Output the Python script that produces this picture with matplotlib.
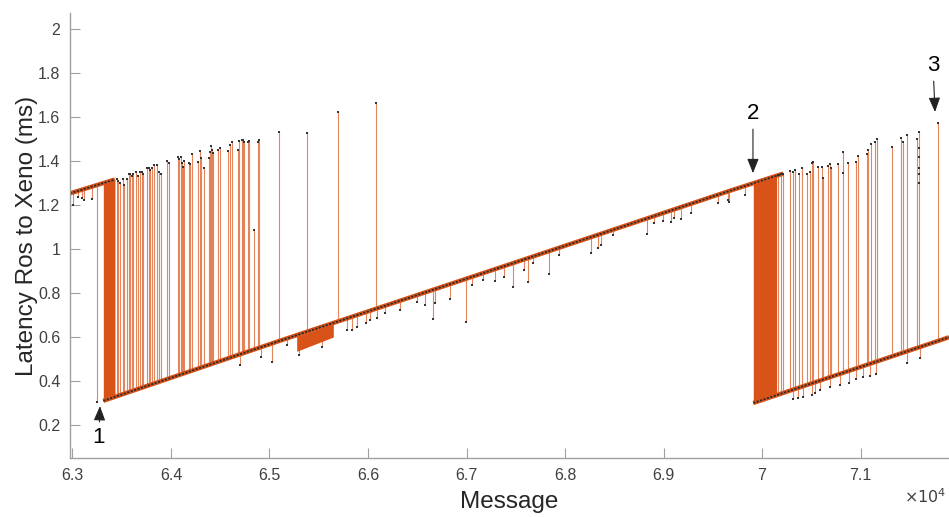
import matplotlib.pyplot as plt

plt.rcParams['font.family'] = ['Liberation Sans', 'DejaVu Sans']

ORANGE = '#D95319'
GREY = '#A0A0A0'

# --- ramps (message, latency in ms)
ramp_a_msg = [62975, 63431]
ramp_a_lat = [1.253, 1.316]
ramp_b_msg = [63313, 65105, 67340, 69675, 70216]
ramp_b_lat = [0.310, 0.583, 0.916, 1.265, 1.343]
ramp_c_msg = [69911, 71898]
ramp_c_lat = [0.300, 0.599]

# --- bursts where every message flips between the two ramps
burst1_msg = [63313, 63431]
burst1_lo = [0.310, 0.328]
burst1_hi = [1.300, 1.316]
burst2_msg = [69911, 70148]
burst2_lo = [0.300, 0.336]
burst2_hi = [1.300, 1.334]
burst3_msg = [65276, 65648]
burst3_lo = [0.535, 0.600]
burst3_hi = [0.602, 0.660]

# --- single jumps up to the old ramp
spike_msg = [63246,
             63449, 63465, 63482, 63510, 63526, 63550, 63577, 63589, 63601, 63617,
             63645, 63662, 63685, 63703, 63719, 63759, 63774, 63787, 63804, 63830,
             63855, 63878, 63895, 63962, 63983, 64074, 64086, 64098, 64109, 64119,
             64132, 64183, 64193, 64210, 64277, 64294, 64301, 64338, 64386, 64396,
             64406, 64419, 64429, 64480, 64497, 64582, 64599, 64616, 64677, 64693,
             64718, 64734, 64741, 64785, 64795, 64843, 64880, 64896, 65096, 65378,
             65692, 66081,
             70165, 70193, 70216, 70284, 70318, 70335, 70379, 70403, 70454, 70487,
             70504, 70515, 70571, 70606, 70622, 70673, 70690, 70700, 70774, 70825,
             70876, 70951, 70971, 71063, 71079, 71106, 71147, 71164, 71317, 71411,
             71434, 71469, 71570, 71593, 71789]
spike_lo = [0.306,
            0.330, 0.333, 0.335, 0.339, 0.342, 0.345, 0.350, 0.351, 0.353, 0.356,
            0.360, 0.362, 0.366, 0.368, 0.371, 0.377, 0.379, 0.381, 0.383, 0.387,
            0.391, 0.395, 0.397, 0.407, 0.410, 0.424, 0.426, 0.428, 0.429, 0.431,
            0.433, 0.440, 0.442, 0.444, 0.454, 0.457, 0.458, 0.463, 0.471, 0.472,
            0.474, 0.476, 0.477, 0.485, 0.487, 0.500, 0.503, 0.505, 0.514, 0.517,
            0.520, 0.523, 0.524, 0.530, 0.532, 0.539, 0.545, 0.547, 0.577, 0.619,
            0.666, 0.724,
            0.338, 0.342, 0.346, 0.356, 0.361, 0.364, 0.370, 0.374, 0.381, 0.386,
            0.389, 0.391, 0.399, 0.404, 0.407, 0.414, 0.417, 0.418, 0.429, 0.437,
            0.445, 0.456, 0.459, 0.473, 0.475, 0.479, 0.485, 0.488, 0.511, 0.525,
            0.528, 0.534, 0.549, 0.552, 0.582]
spike_hi = [1.290,
            1.320, 1.310, 1.300, 1.320, 1.290, 1.320, 1.340, 1.340, 1.330, 1.340,
            1.350, 1.330, 1.350, 1.350, 1.340, 1.370, 1.370, 1.360, 1.370, 1.380,
            1.380, 1.350, 1.340, 1.400, 1.390, 1.420, 1.410, 1.420, 1.390, 1.374,
            1.400, 1.392, 1.385, 1.430, 1.397, 1.447, 1.412, 1.370, 1.412, 1.442,
            1.468, 1.450, 1.438, 1.450, 1.460, 1.447, 1.473, 1.485, 1.450, 1.490,
            1.495, 1.495, 1.488, 1.485, 1.490, 1.086, 1.488, 1.495, 1.533, 1.526,
            1.621, 1.662,
            1.336, 1.340, 1.343, 1.356, 1.351, 1.359, 1.341, 1.367, 1.341, 1.351,
            1.390, 1.394, 1.374, 1.374, 1.321, 1.377, 1.386, 1.367, 1.386, 1.442,
            1.390, 1.394, 1.424, 1.430, 1.450, 1.476, 1.485, 1.499, 1.465, 1.503,
            1.488, 1.518, 1.499, 1.533, 1.571]

# --- short drops below the ramp
dip_msg = [63002, 63059, 63093, 63117, 63195,
           64700, 64914, 65022, 65175, 65300, 65530, 65784, 65835, 65885, 65980,
           66020, 66088, 66172, 66325, 66494, 66579, 66663, 66680, 66832, 66992,
           67053, 67170, 67289, 67384, 67475, 67584, 67627, 67678, 67837, 67942,
           68264, 68338, 68365, 68490, 68829, 68903, 68998, 69073, 69110, 69177,
           69276, 69556, 69658, 69668, 69827,
           70318, 70368, 70419, 70504, 70538, 70589, 70690, 70792, 70885, 70954,
           71022, 71096, 71157, 71469, 71604]
dip_base = [1.257, 1.265, 1.270, 1.273, 1.285,
            0.518, 0.550, 0.566, 0.589, 0.606, 0.640, 0.680, 0.688, 0.695, 0.709,
            0.715, 0.725, 0.738, 0.761, 0.786, 0.799, 0.811, 0.814, 0.837, 0.861,
            0.870, 0.887, 0.905, 0.919, 0.933, 0.949, 0.956, 0.963, 0.987, 1.003,
            1.051, 1.062, 1.066, 1.085, 1.136, 1.147, 1.161, 1.172, 1.178, 1.188,
            1.203, 1.245, 1.260, 1.261, 1.285,
            0.361, 0.369, 0.376, 0.389, 0.394, 0.402, 0.417, 0.432, 0.446, 0.456,
            0.467, 0.478, 0.487, 0.534, 0.554]
dip_lat = [1.200, 1.235, 1.230, 1.223, 1.226,
           0.473, 0.510, 0.488, 0.564, 0.520, 0.556, 0.632, 0.632, 0.647, 0.662,
           0.677, 0.685, 0.708, 0.723, 0.760, 0.745, 0.682, 0.753, 0.773, 0.667,
           0.836, 0.859, 0.855, 0.871, 0.829, 0.905, 0.851, 0.938, 0.886, 0.973,
           0.980, 1.003, 1.018, 1.064, 1.068, 1.117, 1.129, 1.121, 1.140, 1.135,
           1.162, 1.208, 1.223, 1.215, 1.245,
           0.317, 0.321, 0.329, 0.336, 0.344, 0.359, 0.371, 0.382, 0.390, 0.407,
           0.417, 0.423, 0.432, 0.480, 0.503]

# --- a few extra samples sitting on the spike lines
extra_msg = [70825, 71593, 71593, 71593, 71593, 71593]
extra_lat = [1.345, 1.460, 1.420, 1.370, 1.340, 1.300]

xticks = [63000, 64000, 65000, 66000, 67000, 68000, 69000, 70000, 71000]
yticks = [0.2, 0.4, 0.6, 0.8, 1.0, 1.2, 1.4, 1.6, 1.8, 2.0]

fig = plt.figure(figsize=(9.49, 5.17), dpi=100)
ax = fig.add_axes([70 / 949, 59 / 517, 879 / 949, 445 / 517])

# spikes and dips
ax.vlines(spike_msg, spike_lo, spike_hi, color=ORANGE, lw=0.8, alpha=0.7)
ax.vlines(dip_msg, dip_base, dip_lat, color=ORANGE, lw=0.8, alpha=0.7)

# dense bursts
for m, lo, hi in [(burst1_msg, burst1_lo, burst1_hi),
                  (burst2_msg, burst2_lo, burst2_hi),
                  (burst3_msg, burst3_lo, burst3_hi)]:
    ax.fill_between(m, lo, hi, color=ORANGE, lw=0)

# ramps
for m, v in [(ramp_a_msg, ramp_a_lat), (ramp_b_msg, ramp_b_lat), (ramp_c_msg, ramp_c_lat)]:
    ax.plot(m, v, color=ORANGE, lw=3.2, solid_capstyle='butt')
    ax.plot(m, v, color='#2a2a2a', lw=1.3, dashes=(1.2, 0.8))

# sample markers
ax.plot(spike_msg[1:], spike_hi[1:], 's', color='#333333', ms=1.8, mew=0)
ax.plot(spike_msg[:1], spike_lo[:1], 's', color='#333333', ms=1.8, mew=0)
ax.plot(dip_msg, dip_lat, 's', color='#333333', ms=1.8, mew=0)
ax.plot(extra_msg, extra_lat, 's', color='#333333', ms=1.8, mew=0)

ax.set_xlim(62975, 71898)
ax.set_ylim(0.05, 2.073)
ax.set_xticks(xticks)
ax.set_xticklabels([f'{t / 1e4:g}' for t in xticks])
ax.set_yticks(yticks)
ax.set_yticklabels([f'{t:g}' for t in yticks])

for s in ['top', 'right']:
    ax.spines[s].set_visible(False)
for s in ['left', 'bottom']:
    ax.spines[s].set_color(GREY)
    ax.spines[s].set_linewidth(1.0)
ax.tick_params(direction='in', length=7, width=0.8, color=GREY,
               labelsize=11.5, labelcolor='#404040', pad=7)

ax.set_xlabel('Message', fontsize=17.5, color='#262626', labelpad=6)
ax.set_ylabel('Latency Ros to Xeno (ms)', fontsize=17.5, color='#262626', labelpad=0)
fig.text(0.997, 0.022, r'$\times10^{4}$', ha='right', va='bottom',
         fontsize=11.5, color='#404040')

arrow = dict(arrowstyle='-|>,head_length=0.55,head_width=0.22', color='#222222',
             lw=0.8, shrinkA=2, shrinkB=0)
ax.annotate('1', xy=(63279, 0.286), xytext=(63269, 0.141), fontsize=16,
            ha='center', va='center', arrowprops=arrow)
ax.annotate('2', xy=(69908, 1.345), xytext=(69908, 1.618), fontsize=16,
            ha='center', va='center', arrowprops=arrow)
ax.annotate('3', xy=(71756, 1.623), xytext=(71736, 1.836), fontsize=16,
            ha='center', va='center', arrowprops=arrow)

fig.savefig('out.png', dpi=100)
